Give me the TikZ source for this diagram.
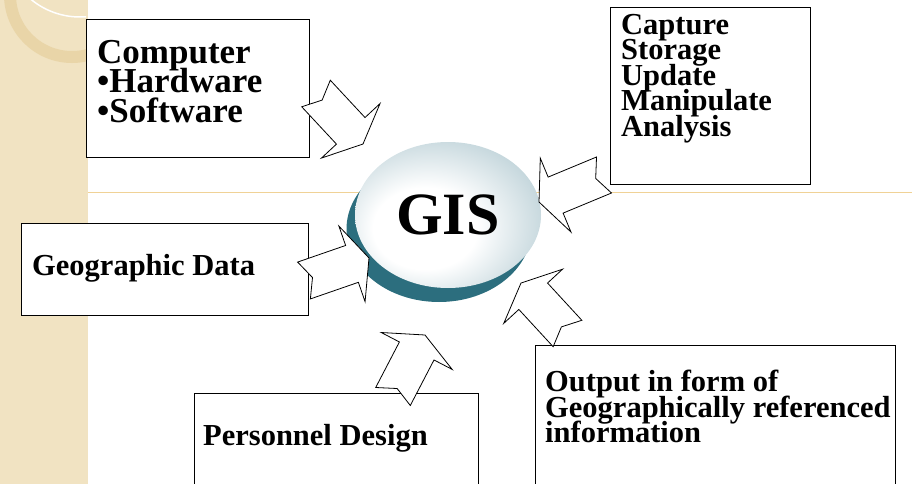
\documentclass[tikz,border=0pt]{standalone}
\usepackage{fontspec}
\setmainfont{Liberation Serif}
\usetikzlibrary{calc, shapes.geometric}

\definecolor{stripetan}{RGB}{241,227,194}
\definecolor{ringtan}{RGB}{233,213,168}
\definecolor{rulegold}{RGB}{240,210,150}
\definecolor{gisedge}{RGB}{112,156,170}
\definecolor{gisshadow}{RGB}{44,110,126}

\pgfdeclareradialshading{gisball}{\pgfpoint{-8bp}{-6bp}}{%
  color(0bp)=(white); color(14bp)=(white); color(32bp)=(gisedge!45!white);
  color(44bp)=(gisedge); color(60bp)=(gisedge!85!black)}

% notched block arrow from tail centre #1 to tip #2
\newcommand{\notcharrow}[2]{%
  \draw[blockarrow] (#2)
    -- ($(#2)!18pt!(#1)!40pt!90:(#1)$) -- ($(#2)!18pt!(#1)!19.5pt!90:(#1)$)
    -- ($(#1)!19.5pt!-90:(#2)$) -- ($(#1)!9pt!(#2)$) -- ($(#1)!19.5pt!90:(#2)$)
    -- ($(#2)!18pt!(#1)!19.5pt!-90:(#1)$) -- ($(#2)!18pt!(#1)!40pt!-90:(#1)$)
    -- cycle;
}
% fixed leading, even where lines would touch
\newcommand{\boxfont}[2]{\bfseries\fontsize{#1}{#2}\selectfont\lineskiplimit-50pt\relax}

\begin{document}
\begin{tikzpicture}[x=1pt, y=-1pt,
    box/.style={rectangle, draw=black, line width=0.9pt, fill=white, anchor=north west, inner sep=0pt},
    boxtext/.style={anchor=north west, align=left, inner sep=0pt, font={\boxfont{30.5pt}{25.5pt}}},
    blockarrow/.style={draw=black, line width=0.8pt, fill=white, line join=miter}
]
\useasboundingbox (0,0) rectangle (912,484);
\clip (0,0) rectangle (912,484);

% Background stripe and rule
\fill[stripetan] (0,0) rectangle (88,484);
\begin{scope}
  \clip (0,0) rectangle (86,484);
  \draw[ringtan, line width=12pt] (72,-5) circle [radius=62];
  \draw[white, line width=1.5pt] (80,-60) circle [radius=77];
\end{scope}
\draw[rulegold, line width=1pt] (88,192) -- (912,192);

% GIS ball
\fill[gisshadow] (439,229) ellipse [x radius=92.5, y radius=73];
\node[ellipse, shade, shading=gisball, minimum width=186pt, minimum height=146pt, inner sep=0pt,
      font=\bfseries\fontsize{60pt}{60pt}\selectfont] (gis) at (448,215) {GIS};

% Boxes
\node[box, minimum width=223pt, minimum height=138pt] (comp) at (86,19) {};
\node[boxtext, font={\boxfont{35pt}{29.5pt}}] (comp-text)
    at ($(comp.north west)+(11,21)$) {Computer\\•Hardware\\•Software};

\node[box, minimum width=200pt, minimum height=177pt] (task) at (610,7) {};
\node[boxtext] (task-text) at ($(task.north west)+(11,7)$)
    {Capture\\Storage\\Update\\Manipulate\\Analysis};

\node[box, minimum width=287pt, minimum height=92pt] (geo) at (21,223) {};
\node[boxtext] (geo-text) at ($(geo.north west)+(11,31)$) {Geographic Data};

\node[box, minimum width=284pt, minimum height=120pt] (pers) at (194,393) {};
\node[boxtext] (pers-text) at ($(pers.north west)+(9,31)$) {Personnel Design};

\node[box, minimum width=360pt, minimum height=160pt] (out) at (535,345) {};
\node[boxtext] (out-text) at ($(out.north west)+(10,25)$)
    {Output in form of\\Geographically referenced\\information};

% Block arrows towards GIS
\coordinate (comp-tail) at (316,93.5);  \coordinate (comp-tip) at (363,144);
\coordinate (task-tail) at (604,175);   \coordinate (task-tip) at (539,202);
\coordinate (geo-tail) at (304,280.5);  \coordinate (geo-tip) at (369,258);
\coordinate (pers-tail) at (393,396.5); \coordinate (pers-tip) at (425,335);
\coordinate (out-tail) at (567.5,333.5); \coordinate (out-tip) at (521,283);

\notcharrow{comp-tail}{comp-tip}
\notcharrow{task-tail}{task-tip}
\notcharrow{geo-tail}{geo-tip}
\notcharrow{pers-tail}{pers-tip}
\notcharrow{out-tail}{out-tip}

\end{tikzpicture}
\end{document}
